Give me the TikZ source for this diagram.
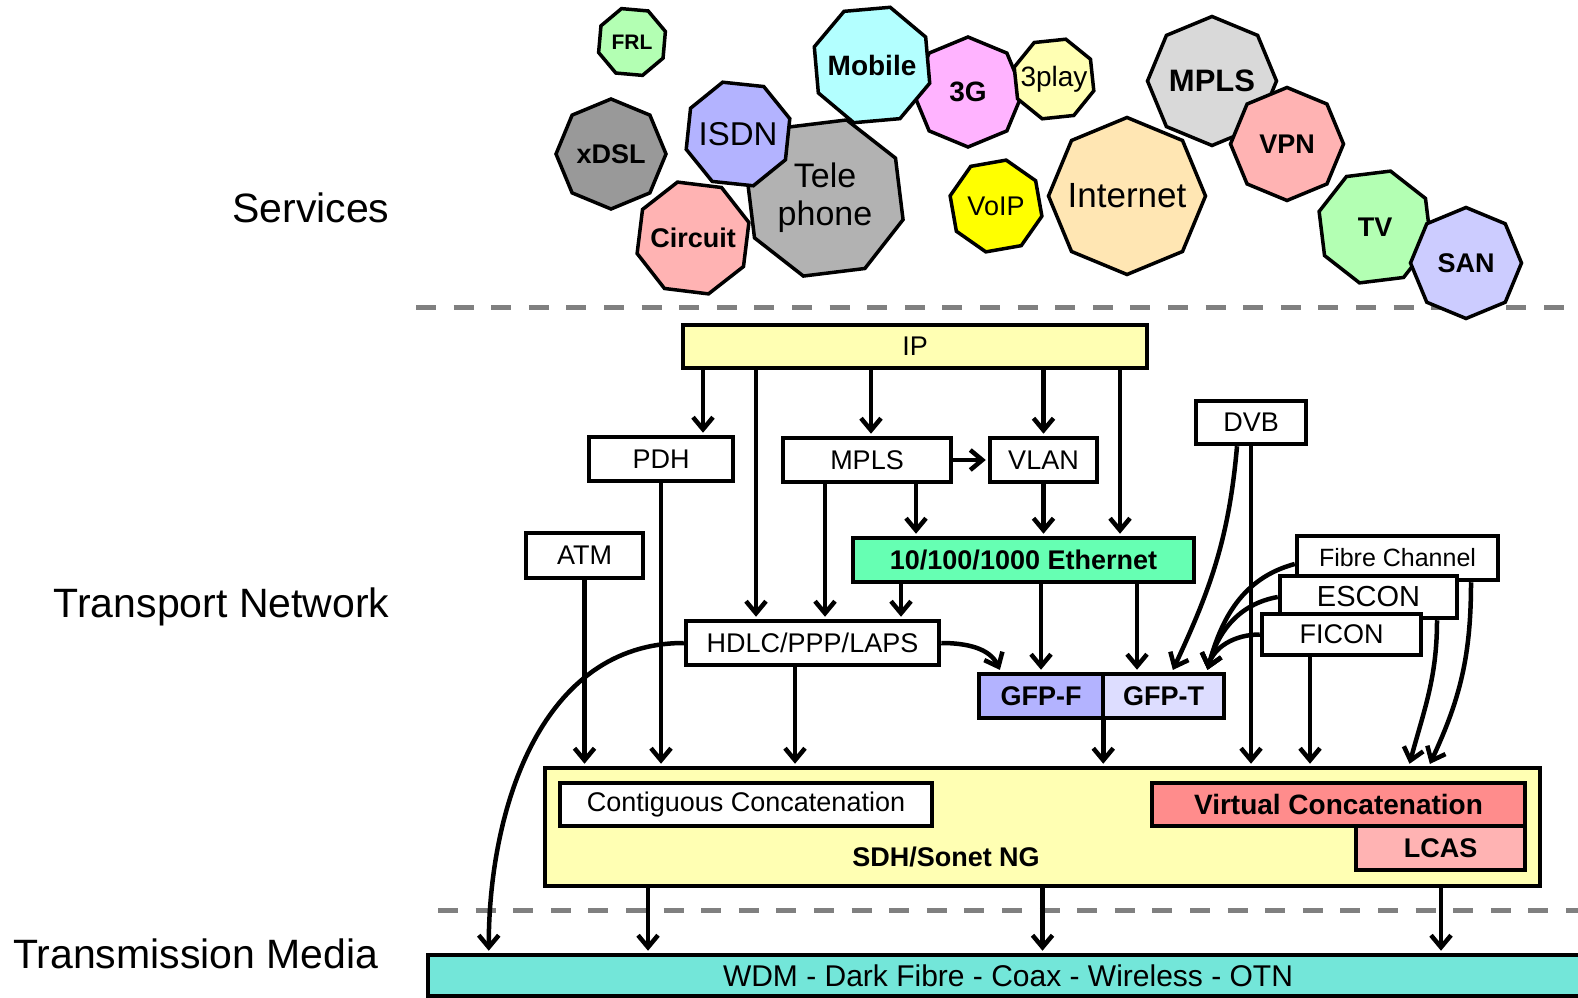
\documentclass[tikz,border=0pt]{standalone}
\usepackage{fontspec}
\setmainfont{Liberation Sans}
\usetikzlibrary{shapes, arrows.meta, positioning}

\definecolor{lightyellow}{HTML}{FFFFB3}
\definecolor{ethgreen}{HTML}{66FFB3}
\definecolor{gfpfblue}{HTML}{B3B3FF}
\definecolor{gfptblue}{HTML}{DDDDFF}
\definecolor{vcred}{HTML}{FF8C8C}
\definecolor{lcaspink}{HTML}{FFB3B3}
\definecolor{wdmcyan}{HTML}{73E6D9}
\definecolor{svgreen}{HTML}{B3FFB3}
\definecolor{svgrey}{HTML}{999999}
\definecolor{svlightgrey}{HTML}{B2B2B2}
\definecolor{svsilver}{HTML}{D9D9D9}
\definecolor{svblue}{HTML}{B3B3FF}
\definecolor{svlavender}{HTML}{CCCCFF}
\definecolor{svpink}{HTML}{FFB3B3}
\definecolor{svcyan}{HTML}{B3FFFF}
\definecolor{svmagenta}{HTML}{FFB3FF}
\definecolor{svyellow}{HTML}{FFFF00}
\definecolor{svpeach}{HTML}{FFE6B3}

\tikzset{
  svc/.style={regular polygon, regular polygon sides=8, draw, line width=3.5pt, inner sep=0pt},
  bold/.style={font=\fontsize{#1}{#1}\selectfont\bfseries},
  plain/.style={font=\fontsize{#1}{#1}\selectfont},
  box/.style={draw, line width=4.5pt, fill=white, inner sep=0pt, minimum height=44pt, font=\fontsize{27}{32}\selectfont},
  flow/.style={line width=4.5pt, -{Straight Barb[length=12pt,width=20pt]}, shorten >=2pt},
  sep/.style={draw=gray, line width=5pt, dash pattern=on 20pt off 17.6pt},
  layer/.style={anchor=east, font=\fontsize{41}{48}\selectfont}
}

\begin{document}
\begin{tikzpicture}[x=1pt, y=1pt]
\useasboundingbox (0,0) rectangle (1578,997);

% layer names
\node[layer] (services) at (393,789) {Services};
\node[layer] (transport) at (393,390) {Transport Network};
\node[layer] (media) at (382,43) {Transmission Media};

\draw[sep] (416,689) -- (1590,689);
\draw[sep] (438,87) -- (1590,87);

% services
\node[svc, fill=svgreen, minimum size=70pt, shape border rotate=-5, label={[bold=21]center:FRL}] (frl) at (632,955) {};
\node[svc, fill=svgrey, minimum size=110pt, shape border rotate=22.5, label={[bold=27]center:xDSL}] (xdsl) at (611,843) {};
\node[svc, fill=svlightgrey, minimum size=162pt, shape border rotate=7, label={[plain=34, align=center]center:Tele\\[4pt]phone}] (tele) at (825,799) {};
\node[svc, fill=svblue, minimum size=108pt, shape border rotate=-6, label={[plain=33]center:ISDN}] (isdn) at (738,863) {};
\node[svc, fill=svpink, minimum size=116pt, shape border rotate=-7, label={[bold=27]center:Circuit}] (circuit) at (693,759) {};
\node[svc, fill=svmagenta, minimum size=110pt, shape border rotate=22.5, label={[bold=28]center:3G}] (threeg) at (968,905) {};
\node[svc, fill=svcyan, minimum size=121pt, shape border rotate=5, label={[bold=28]center:Mobile}] (mobile) at (872,932) {};
\node[svc, fill=lightyellow, minimum size=83pt, shape border rotate=6, label={[plain=28]center:3play}] (threeplay) at (1054,918) {};
\node[svc, fill=svyellow, minimum size=94pt, shape border rotate=10, label={[plain=27]center:VoIP}] (voip) at (996,791) {};
\node[svc, fill=svpeach, minimum size=157pt, shape border rotate=22.5, label={[plain=35]center:Internet}] (internet) at (1127,801) {};
\node[svc, fill=svsilver, minimum size=129pt, shape border rotate=22.5, label={[bold=31]center:MPLS}] (mplssvc) at (1212,916) {};
\node[svc, fill=svpink, minimum size=113pt, shape border rotate=22.5, label={[bold=27]center:VPN}] (vpn) at (1287,853) {};
\node[svc, fill=svgreen, minimum size=116pt, shape border rotate=7, label={[bold=27]center:TV}] (tv) at (1375,770) {};
\node[svc, fill=svlavender, minimum size=111pt, shape border rotate=22.5, label={[bold=27]center:SAN}] (san) at (1466,734) {};

% transport network
\node[box, fill=lightyellow, minimum width=464pt, minimum height=43pt] (ip) at (915,650.5) {IP};
\node[box, minimum width=144pt] (pdh) at (661,538) {PDH};
\node[box, minimum width=168pt] (mpls) at (867,537) {MPLS};
\node[box, minimum width=107pt] (vlan) at (1043.5,537) {VLAN};
\node[box, minimum width=110pt, minimum height=43pt] (dvb) at (1251,574.5) {DVB};
\node[box, minimum width=117pt, minimum height=45pt] (atm) at (584.5,441.5) {ATM};
\node[box, fill=ethgreen, minimum width=341pt] (eth) at (1023.5,437) {\bfseries 10/100/1000 Ethernet};
\node[box, minimum width=201pt, font=\fontsize{25}{30}\selectfont] (fc) at (1397.5,439) {Fibre Channel};
\node[box, minimum width=177pt, minimum height=42pt, font=\fontsize{29}{34}\selectfont] (escon) at (1368.5,400) {ESCON};
\node[box, minimum width=159pt, minimum height=41pt] (ficon) at (1341.5,362.5) {FICON};
\node[box, minimum width=253pt] (hdlc) at (812.5,354) {HDLC/PPP/LAPS};
\node[box, fill=gfpfblue, minimum width=124pt] (gfpf) at (1041,301) {\bfseries GFP-F};
\node[box, fill=gfptblue, minimum width=121pt] (gfpt) at (1163.5,301) {\bfseries GFP-T};

\node[box, fill=lightyellow, minimum width=995pt, minimum height=118pt] (sdh) at (1042.5,170) {};
\node[box, minimum width=372pt, minimum height=43pt] (contig) at (746,192.5) {Contiguous Concatenation};
\node[box, fill=vcred, minimum width=373pt, minimum height=43pt, font=\fontsize{28}{32}\selectfont\bfseries] (virt) at (1338.5,192.5) {Virtual Concatenation};
\node[box, fill=lcaspink, minimum width=169pt] (lcas) at (1440.5,149) {\bfseries LCAS};
\node[bold=27] (sdhlabel) at (946,140) {SDH/Sonet NG};

% transmission media
\node[box, fill=wdmcyan, minimum width=1160pt, minimum height=41pt, font=\fontsize{30}{36}\selectfont] (wdm) at (1008,21.5) {WDM - Dark Fibre - Coax - Wireless - OTN};

% connectors from IP
\draw[flow] ([xshift=42pt]pdh.north |- ip.south) -- ([xshift=42pt]pdh.north);
\draw[flow] ([xshift=-56.5pt]hdlc.north |- ip.south) -- ([xshift=-56.5pt]hdlc.north);
\draw[flow] ([xshift=4pt]mpls.north |- ip.south) -- ([xshift=4pt]mpls.north);
\draw[flow] (vlan.north |- ip.south) -- (vlan.north);
\draw[flow] ([xshift=96.5pt]eth.north |- ip.south) -- ([xshift=96.5pt]eth.north);

\draw[flow] (mpls.east) -- (vlan.west);
\draw[flow] ([xshift=-107.5pt]eth.north |- mpls.south) -- ([xshift=-107.5pt]eth.north);
\draw[flow] ([xshift=12.5pt]hdlc.north |- mpls.south) -- ([xshift=12.5pt]hdlc.north);
\draw[flow] (vlan.south) -- (vlan.south |- eth.north);
\draw[flow] ([xshift=88.5pt]hdlc.north |- eth.south) -- ([xshift=88.5pt]hdlc.north);
\draw[flow] (gfpf.north |- eth.south) -- (gfpf.north);
\draw[flow] ([xshift=-26.5pt]gfpt.north |- eth.south) -- ([xshift=-26.5pt]gfpt.north);

\draw[flow] (hdlc.east) to[out=0, in=115] ([xshift=24pt]gfpf.north west);
\draw[flow] (hdlc.west) to[out=180, in=90] ([xshift=63pt]wdm.north west);
\draw[flow] ([xshift=-14pt]dvb.south) to[out=-95, in=65] ([xshift=8.5pt]gfpt.north);
\draw[flow] ([yshift=-6pt]fc.west) to[out=195, in=75] ([xshift=43.5pt]gfpt.north);
\draw[flow] (escon.west) to[out=190, in=75] ([xshift=43.5pt]gfpt.north);
\draw[flow] (ficon.west) to[out=180, in=75] ([xshift=43.5pt]gfpt.north);

% into SDH/Sonet
\draw[flow] (atm.south) -- (atm.south |- sdh.north);
\draw[flow] (pdh.south) -- (pdh.south |- sdh.north);
\draw[flow] ([xshift=-17.5pt]hdlc.south) -- ([xshift=-17.5pt]hdlc.south |- sdh.north);
\draw[flow] ([xshift=-2pt]gfpf.south east) -- ([xshift=-2pt]gfpf.south east |- sdh.north);
\draw[flow] (dvb.south) -- (dvb.south |- sdh.north);
\draw[flow] ([xshift=-31.5pt]ficon.south) -- ([xshift=-31.5pt]ficon.south |- sdh.north);
\draw[flow] ([xshift=68.5pt]escon.south) to[out=-90, in=75] ([xshift=366.5pt]sdh.north);
\draw[flow] ([xshift=73.5pt]fc.south) to[out=-90, in=65] ([xshift=386.5pt]sdh.north);

% down to the media
\draw[flow] ([xshift=-394.5pt]sdh.south) -- ([xshift=-394.5pt]sdh.south |- wdm.north);
\draw[flow] (sdh.south) -- (sdh.south |- wdm.north);
\draw[flow] ([xshift=398.5pt]sdh.south) -- ([xshift=398.5pt]sdh.south |- wdm.north);
\end{tikzpicture}
\end{document}
